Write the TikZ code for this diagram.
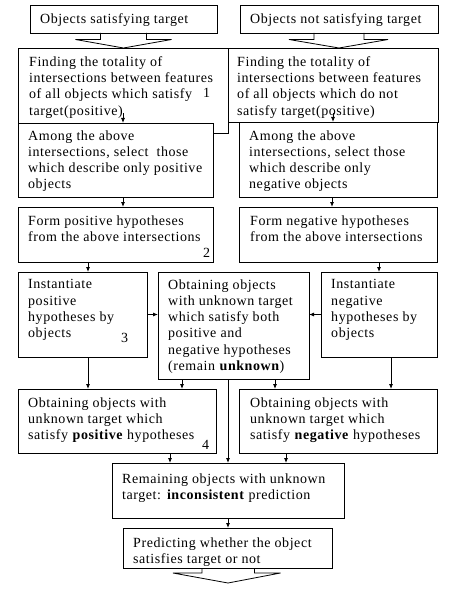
\documentclass[tikz,border=0pt]{standalone}
\usepackage{fontspec}
\setmainfont{Liberation Serif}[LetterSpace=4]
\usetikzlibrary{arrows.meta,calc}
\begin{document}
\begin{tikzpicture}[x=1pt,y=-1pt,
  box/.style={draw=black,fill=white,line width=0.8pt,inner sep=0pt,outer sep=0pt,anchor=north west},
  txt/.style={inner sep=0pt,anchor=north west,align=left,font=\fontsize{14}{16.2}\selectfont},
  num/.style={inner sep=0pt,anchor=base west,font=\fontsize{14}{16.2}\selectfont},
  arr/.style={-{Latex[length=5pt,width=4pt]},line width=0.8pt},
  hollow/.style={line width=0.8pt,line join=miter}]
\useasboundingbox (0,0) rectangle (457,591);
\fill[white] (0,0) rectangle (457,591);
% boxes
\node[box,minimum width=187pt,minimum height=28pt] (a1) at (30,5) {};
\node[box,minimum width=198pt,minimum height=28pt] (a2) at (240,5) {};
\node[box,minimum width=210pt,minimum height=74pt] (b2) at (228,48) {};
\node[box,minimum width=210pt,minimum height=85pt] (b1) at (18,48) {};
\node[box,minimum width=195pt,minimum height=74pt] (c1) at (18,123) {};
\node[box,minimum width=198pt,minimum height=75pt] (c2) at (239,122) {};
\node[box,minimum width=195pt,minimum height=55pt] (d1) at (18,207) {};
\node[box,minimum width=198pt,minimum height=55pt] (d2) at (239,207) {};
\node[box,minimum width=129pt,minimum height=85pt] (e1) at (18,272) {};
\node[box,minimum width=151pt,minimum height=107pt] (e2) at (158,272) {};
\node[box,minimum width=116pt,minimum height=85pt] (e3) at (321,272) {};
\node[box,minimum width=198pt,minimum height=64pt] (f1) at (18,389) {};
\node[box,minimum width=198pt,minimum height=64pt] (f2) at (239,389) {};
\node[box,minimum width=232pt,minimum height=55pt] (g) at (112,463) {};
\node[box,minimum width=209pt,minimum height=40pt] (h) at (123,528) {};
% texts
\node[txt] (a1t) at (40,13.4) {Objects satisfying target};
\node[txt] (a2t) at (250,13.4) {Objects not satisfying target};
\node[txt] (b1t) at (29,56.4) {Finding the totality of\\intersections between features\\of all objects which satisfy\\target(positive)};
\node[num] (n1) at (203,98) {1};
\node[txt] (b2t) at (237,56.4) {Finding the totality of\\intersections between features\\of all objects which do not\\satisfy target(positive)};
\node[txt] (c1t) at (28,130.4) {Among the above\\intersections, select\ \ those\\which describe only positive\\objects};
\node[txt] (c2t) at (249,130.4) {Among the above\\intersections, select those\\which describe only\\negative objects};
\node[txt] (d1t) at (28,215.4) {Form positive hypotheses\\from the above intersections};
\node[num] (n2) at (203,257) {2};
\node[txt] (d2t) at (250,215.4) {Form negative hypotheses\\from the above intersections};
\node[txt] (e1t) at (28,279.4) {Instantiate\\positive\\hypotheses by\\objects};
\node[num] (n3) at (121,342) {3};
\node[txt] (e2t) at (168,279.4) {Obtaining objects\\with unknown target\\which satisfy both\\positive and\\negative hypotheses\\(remain \textbf{unknown})};
\node[txt] (e3t) at (331,279.4) {Instantiate\\negative\\hypotheses by\\objects};
\node[txt] (f1t) at (28,397.4) {Obtaining objects with\\unknown target which\\satisfy \textbf{positive} hypotheses};
\node[num] (n4) at (202,449) {4};
\node[txt] (f2t) at (250,397.4) {Obtaining objects with\\unknown target which\\satisfy \textbf{negative} hypotheses};
\node[txt] (gt) at (122,473.4) {Remaining objects with unknown\\target: \textbf{inconsistent} prediction};
\node[txt] (ht) at (133,537.4) {Predicting whether the object\\satisfies target or not};
% hollow arrows
\draw[hollow] ($(a1.south)+(-23,0)$) -- ++(0,6.5) -- ++(-25,0) -- (a1.south |- b1.north) -- ($(a1.south)+(48,6.5)$) -- ++(-25,0) -- ++(0,-6.5);
\draw[hollow] ($(a2.south)+(-25,0)$) -- ++(0,6.5) -- ++(-25,0) -- (a2.south |- b2.north) -- ($(a2.south)+(49,6.5)$) -- ++(-24,0) -- ++(0,-6.5);
\coordinate (hend) at ($(h.south)+(0.5,15)$);
\draw[hollow] ($(h.south)+(-25.5,0)$) -- ++(0,5) -- ++(-29,0) -- (hend) -- ($(h.south)+(53,5)$) -- ++(-26,0) -- ++(0,-5);
% connectors
\draw[arr] ($(c1.north)+(7.5,-10)$) -- ($(c1.north)+(7.5,0)$);
\draw[arr] ($(c2.north)+(-5,-9)$) -- ($(c2.north)+(-5,0)$);
\draw[arr] ($(c1.south)+(7.5,0)$) -- ($(d1.north)+(7.5,0)$);
\draw[arr] ($(c2.south)+(-6,0)$) -- ($(d2.north)+(-6,0)$);
\draw[arr] ($(e1.north |- d1.south)+(5.5,0)$) -- ($(e1.north)+(5.5,0)$);
\draw[arr] (e3.north |- d2.south) -- (e3.north);
\draw[arr] (e1.east) -- (e1.east -| e2.west);
\draw[arr] (e3.west) -- (e3.west -| e2.east);
\draw[arr] ($(e1.south)+(5.5,0)$) -- ($(e1.south |- f1.north)+(5.5,0)$);
\draw[arr] ($(e2.south)+(-51.5,0)$) -- ($(e2.south |- f1.north)+(-51.5,0)$);
\draw[arr] ($(e2.south)+(41.5,0)$) -- ($(e2.south |- f2.north)+(41.5,0)$);
\draw[arr] ($(e2.south)+(-5.5,0)$) -- ($(e2.south |- g.north)+(-5.5,0)$);
\draw[arr] ($(e3.south)+(12,0)$) -- ($(e3.south |- f2.north)+(12,0)$);
\draw[arr] ($(f1.south)+(53,0)$) -- ($(f1.south |- g.north)+(53,0)$);
\draw[arr] ($(f2.south)+(-52,0)$) -- ($(f2.south |- g.north)+(-52,0)$);
\draw[arr] (g.south) -- (g.south |- h.north);
\end{tikzpicture}
\end{document}
